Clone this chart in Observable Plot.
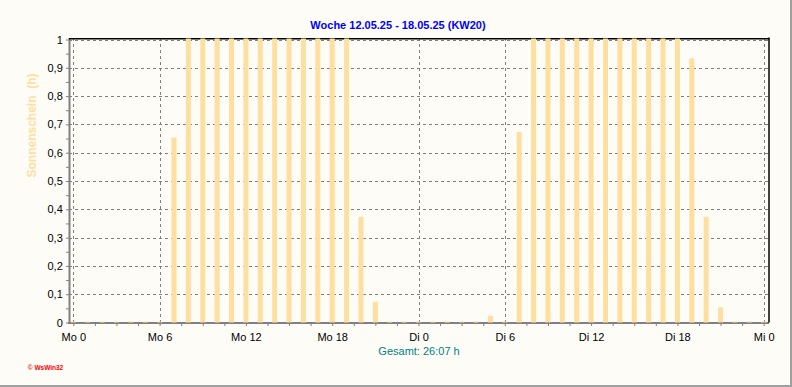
<!DOCTYPE html>
<html>
<head>
<meta charset="utf-8">
<script src="https://cdn.jsdelivr.net/npm/d3@7"></script>
<script src="https://cdn.jsdelivr.net/npm/@observablehq/plot@0.6"></script>
<style>
  body { margin: 0; background: #FDFCF7; }
  #wrap { position: relative; width: 792px; height: 387px; background: #FDFCF7; overflow: hidden; }
  #wrap svg { display: block; position: absolute; left: 0; top: 0; }
  #border { position: absolute; left: 0; top: 0; width: 792px; height: 387px; box-sizing: border-box;
            border-right: 2px solid #A0A0A0; border-bottom: 2px solid #A0A0A0; pointer-events: none; }
</style>
</head>
<body>
<div id="wrap"><div id="border"></div></div>
<script>
// ---- data ----
const title = "Woche 12.05.25 - 18.05.25 (KW20)";
const yLabel = "Sonnenschein  (h)";
const totalText = "Gesamt: 26:07 h";
const copyright = "© WsWin32";

const hours = [0,1,2,3,4,5,6,7,8,9,10,11,12,13,14,15,16,17,18,19,20,21,22,23,
               24,25,26,27,28,29,30,31,32,33,34,35,36,37,38,39,40,41,42,43,44,45,46,47,48];
const sunshine = [0,0,0,0,0,0,0,0.65,1,1,1,1,1,1,1,1,1,1,1,1,0.37,0.07,0,0,
                  0,0,0,0,0,0.02,0,0.67,1,1,1,1,1,1,1,1,1,1,1,0.93,0.37,0.05,0,0,0];

const yTicks = [0,0.1,0.2,0.3,0.4,0.5,0.6,0.7,0.8,0.9,1];
const yTickLabels = ["0","0,1","0,2","0,3","0,4","0,5","0,6","0,7","0,8","0,9","1"];
const xTicks = [0,6,12,18,24,30,36,42,48];
const xTickLabels = ["Mo 0","Mo 6","Mo 12","Mo 18","Di 0","Di 6","Di 12","Di 18","Mi 0"];
const xMinorTicks = d3.range(0, 48.001, 1.5);
const yMinorTicks = d3.range(0, 20.5, 1).map(k => k / 20);

const data = hours.map((h, i) => ({h, v: sunshine[i]}));

const grid = "#808080";
const barColor = "#FFDF9F";

const chart = Plot.plot({
  width: 792,
  height: 387,
  marginLeft: 73.3,
  marginRight: 28.3,
  marginTop: 39.5,
  marginBottom: 64.5,
  style: {background: "transparent", fontFamily: "'Liberation Sans', Arial, sans-serif", fontSize: "11px", overflow: "visible"},
  x: {domain: [0, 48], label: null},
  y: {domain: [0, 1], label: null},
  marks: [
    // dashed grid
    Plot.ruleY(yTicks, {stroke: grid, strokeDasharray: "3,3", insetLeft: -4.3, insetRight: -4.8, shapeRendering: "crispEdges"}),
    Plot.ruleX(xTicks, {stroke: grid, strokeDasharray: "3,3", insetTop: -1.5, shapeRendering: "crispEdges"}),
    // frame lines
    Plot.ruleX([0], {dx: -4.3, stroke: grid, strokeWidth: 2, insetTop: -1.5, insetBottom: -1}),
    Plot.ruleY([0], {stroke: grid, strokeWidth: 2, insetLeft: -5.3, insetRight: -5.3}),
    Plot.ruleY([1], {dy: -1.2, stroke: "black", strokeWidth: 1.5, insetLeft: -4.3, insetRight: -5.5}),
    Plot.ruleX([48], {dx: 4.8, stroke: "black", strokeWidth: 1.5, insetTop: -2}),
    // bars
    Plot.rectY(data, {x1: "h", x2: "h", y: "v", fill: barColor, insetLeft: -2.5, insetRight: -2.5, insetTop: -1}),
    // ticks
    Plot.axisX(xMinorTicks, {tickSize: 3.5, tickFormat: () => "", stroke: grid}),
    Plot.axisY(yMinorTicks, {tickSize: 3, dx: -4.3, tickFormat: () => "", stroke: grid, label: null}),
    // tick labels
    Plot.axisX(xTicks, {tickSize: 0, tickPadding: 10.5, fontSize: 11, fill: "black",
      tickFormat: d => xTickLabels[xTicks.indexOf(d)], label: null}),
    Plot.axisY(yTicks, {tickSize: 0, tickPadding: 11, fontSize: 11, fill: "black",
      tickFormat: d => yTickLabels[yTicks.indexOf(d)], label: null}),
    // texts
    Plot.text([title], {frameAnchor: "top", dx: -21, dy: -14.5, lineAnchor: "middle",
      fill: "#0000FF", fontWeight: "bold", fontSize: 11}),
    Plot.text([yLabel], {frameAnchor: "left", rotate: -90, dx: -41.3, dy: -4, lineAnchor: "middle",
      fill: barColor, fontWeight: "bold", fontSize: 12}),
    Plot.text([totalText], {frameAnchor: "bottom", dy: 28.5, lineAnchor: "middle",
      fill: "#008080", fontSize: 11}),
    Plot.text([copyright], {frameAnchor: "bottom-left", textAnchor: "start", dx: -46, dy: 44.5, lineAnchor: "middle",
      fill: "#FF0000", fontWeight: "bold", fontSize: 6.5})
  ]
});

const wrap = document.getElementById("wrap");
wrap.insertBefore(chart, document.getElementById("border"));
</script>
</body>
</html>
